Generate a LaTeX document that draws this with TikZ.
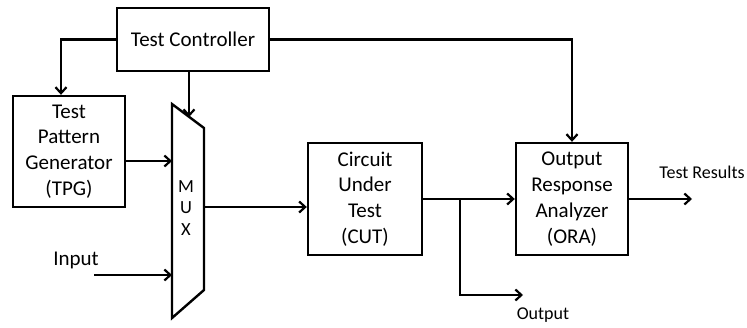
\documentclass[tikz,border=0pt]{standalone}
\usepackage{fontspec}
\setmainfont{Carlito}
\usetikzlibrary{arrows.meta}

\begin{document}
\begin{tikzpicture}[x=1pt, y=-1pt,
  blk/.style={draw, line width=2.4pt, align=center, inner sep=0pt,
    font=\fontsize{21}{25.8}\selectfont},
  wire/.style={line width=2.2pt, -{Straight Barb[length=6pt,width=11pt]}},
  txt/.style={inner sep=0pt, font=\fontsize{18}{21}\selectfont}]
  \useasboundingbox (0,0) rectangle (747,327);
  \node[blk, minimum width=152pt, minimum height=63pt] (ctrl) at (193,39.5) {Test Controller};
  \node[blk, minimum width=112pt, minimum height=111pt] (tpg) at (69,151.5) {Test\\Pattern\\Generator\\(TPG)};
  \node[blk, minimum width=114pt, minimum height=112pt] (cut) at (365,199) {Circuit\\Under\\Test\\(CUT)};
  \node[blk, minimum width=112pt, minimum height=112pt] (ora) at (572,199) {Output\\Response\\Analyzer\\(ORA)};
  \draw[line width=2.4pt] (172,104) coordinate (mux-tl) -- (204,128) coordinate (mux-tr)
    -- (204,290) coordinate (mux-br) -- (172,318) coordinate (mux-bl) -- cycle;
  \node[txt, align=center, font=\fontsize{18.5}{21.5}\selectfont] (mux) at (186,208) {M\\U\\X};
  \node[txt, font=\fontsize{21}{25}\selectfont] (input) at (76,260) {Input};
  \node[txt] (output) at (543,315) {Output};
  \node[txt] (results) at (702,172) {Test Results};
  \coordinate (sel) at (189,117);
  \coordinate (mux-in1) at (172,161);
  \coordinate (mux-in2) at (172,275);
  \coordinate (in-start) at (94,275);
  \coordinate (mux-out) at (204,207);
  \coordinate (tap) at (460,199);
  \coordinate (out-end) at (523,295);
  \coordinate (res-end) at (692,199);
  \draw[wire] (ctrl.west) -| ([xshift=-8pt]tpg.north);
  \draw[wire] (ctrl.south -| sel) -- (sel);
  \draw[wire] (ctrl.east) -| (ora.north);
  \draw[wire] (tpg.east |- mux-in1) -- (mux-in1);
  \draw[wire] (in-start) -- (mux-in2);
  \draw[wire] (mux-out) -- (mux-out -| cut.west);
  \draw[wire] (cut.east) -- (ora.west);
  \draw[wire] (tap) |- (out-end);
  \draw[wire] (ora.east) -- (res-end);
\end{tikzpicture}
\end{document}
